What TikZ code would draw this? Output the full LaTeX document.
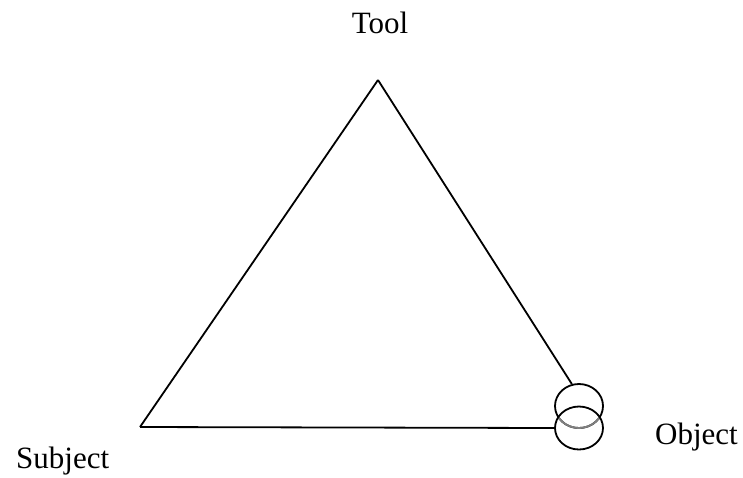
\documentclass[tikz,border=0pt]{standalone}
\usepackage{fontspec}
\setmainfont{Liberation Serif}
\usepackage{tikz}
\usetikzlibrary{shapes.geometric, positioning}

\begin{document}
\begin{tikzpicture}[
    x=1pt, y=-1pt,
    every node/.style={font=\fontsize{31}{36}\selectfont, inner sep=0pt},
    edge/.style    ={draw, line width=1.8pt},
    ring/.style    ={ellipse, draw, line width=1.8pt, minimum width=48pt},
    label/.style   ={text=black}
]
\useasboundingbox (0,0) rectangle (743,477);

% corners of the triangle
\coordinate (apex) at (378,80);
\coordinate (subj) at (140,427);

% the two rings at the object corner
\node [ring, minimum height=44pt] (upper) at (579,406) {};
\node [ring, minimum height=43pt] (lower) at (579,428) {};
\begin{scope}
    \clip (579,428) ellipse [x radius=23pt, y radius=20.5pt];
    \draw [gray, line width=1.8pt] (579,406) ellipse [x radius=24pt, y radius=22pt];
\end{scope}

\draw [edge] (subj) -- (apex);
\draw [edge] (apex) -- (upper.108);
\draw [edge] (subj) -- (lower.west);

% labels
\node [label, anchor=base] (tool) at (380,33) {Tool};
\node [label, anchor=base west] (subject) at (16,468) {Subject};
\node [label, anchor=base west] (object) at (655,444) {Object};
\end{tikzpicture}
\end{document}
